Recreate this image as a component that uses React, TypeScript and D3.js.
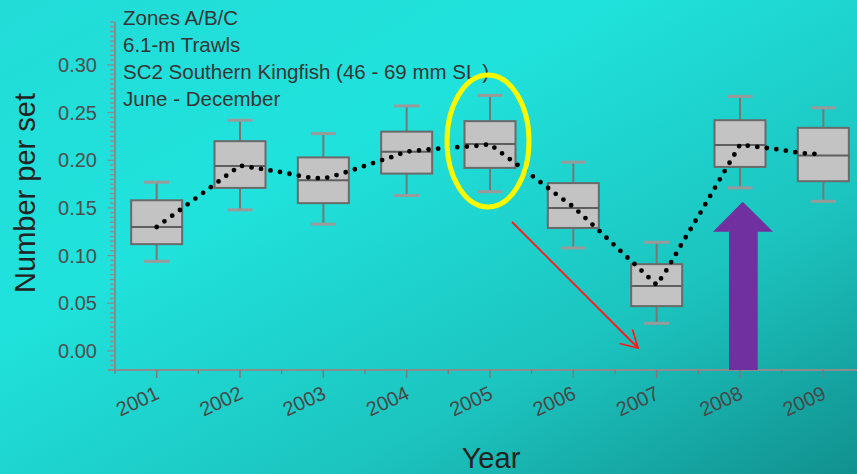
import React from "react";
import * as d3 from "d3";

const years = [2001, 2002, 2003, 2004, 2005, 2006, 2007, 2008, 2009];
const whiskerHigh = [0.177, 0.242, 0.228, 0.257, 0.268, 0.198, 0.114, 0.267, 0.255];
const q3 = [0.158, 0.220, 0.203, 0.230, 0.241, 0.176, 0.091, 0.242, 0.234];
const medians = [0.130, 0.194, 0.179, 0.209, 0.217, 0.150, 0.068, 0.216, 0.205];
const q1 = [0.112, 0.171, 0.155, 0.186, 0.192, 0.129, 0.047, 0.193, 0.178];
const whiskerLow = [0.094, 0.148, 0.133, 0.163, 0.167, 0.108, 0.029, 0.171, 0.157];

// smoothed trend (dotted line)
const smoothYears = [2001.0, 2001.2, 2001.5, 2001.8, 2002.0, 2002.1, 2002.5, 2002.8, 2003.0, 2003.2, 2003.4, 2003.6, 2003.8, 2004.0, 2004.3, 2004.6, 2004.8, 2005.0, 2005.1, 2005.3, 2005.5, 2005.8, 2006.0, 2006.3, 2006.6, 2006.8, 2007.0, 2007.05, 2007.12, 2007.3, 2007.54, 2007.78, 2007.96, 2008.0, 2008.14, 2008.44, 2008.74, 2009.0];
const smoothValues = [0.130, 0.1427, 0.1621, 0.1815, 0.1944, 0.193, 0.1875, 0.1822, 0.1807, 0.1854, 0.1912, 0.1972, 0.2028, 0.2091, 0.2116, 0.2137, 0.2147, 0.2168, 0.2101, 0.1972, 0.1841, 0.164, 0.1511, 0.1269, 0.102, 0.0858, 0.0692, 0.0758, 0.085, 0.1122, 0.1472, 0.1833, 0.2101, 0.2164, 0.2147, 0.2116, 0.2074, 0.2063];

const yTickValues = [0.0, 0.05, 0.1, 0.15, 0.2, 0.25, 0.3];
const headerLines = ["Zones A/B/C", "6.1-m Trawls", "SC2 Southern Kingfish (46 - 69 mm SL )", "June - December"];

const W = 857;
const H = 474;
const FONT = "'Liberation Sans', Arial, sans-serif";

export default function App() {
  const x = d3.scaleBand<number>().domain(years).range([115, 865]).padding(0);
  const bw = x.bandwidth();
  const cx = (yr: number) => (x(yr) as number) + bw / 2;
  const xc = d3.scaleLinear().domain([2001, 2009]).range([cx(2001), cx(2009)]);
  const y = d3.scaleLinear().domain([-0.02, 0.345]).range([370, 22]);

  const minorY = d3.range(-20, 346, 5).map((v) => v / 1000);
  const boundaries = years.map((yr) => x(yr) as number).concat([(x(2009) as number) + bw]);

  const line = d3
    .line<number>()
    .x((_, i) => xc(smoothYears[i]))
    .y((v) => y(v))
    .curve(d3.curveLinear);

  const boxW = 51;
  const capW = 25;

  return (
    <svg
      width={W}
      height={H}
      style={{ position: "absolute", left: 0, top: 0, display: "block" }}
      fontFamily={FONT}
    >
      <defs>
        <linearGradient id="bg" x1="0" y1="0" x2="1" y2="1">
          <stop offset="0" stopColor="#22dcd8" />
          <stop offset="0.35" stopColor="#20e2dc" />
          <stop offset="0.7" stopColor="#1cc4bf" />
          <stop offset="1" stopColor="#11918f" />
        </linearGradient>
      </defs>
      <rect x={0} y={0} width={W} height={H} fill="url(#bg)" />

      {/* header text */}
      {headerLines.map((t, i) => (
        <text key={t} x={123} y={25 + i * 27} fontSize={20.5} fill="#353535">
          {t}
        </text>
      ))}

      {/* y axis */}
      <line x1={115} x2={115} y1={y(0.345)} y2={370} stroke="#8c8c8c" strokeWidth={2} />
      {minorY.map((v) => {
        const major = Math.abs(Math.round(v * 1000) % 50) === 0;
        return (
          <line
            key={"my" + v}
            x1={major ? 107 : 110}
            x2={115}
            y1={y(v)}
            y2={y(v)}
            stroke="#8c8c8c"
            strokeWidth={1.3}
          />
        );
      })}
      {yTickValues.map((v) => (
        <text key={"yt" + v} x={97} y={y(v) + 7} fontSize={20} textAnchor="end" fill="#4e4e4e">
          {d3.format(".2f")(v)}
        </text>
      ))}

      {/* x axis */}
      <line x1={108} x2={W} y1={370} y2={370} stroke="#8c8c8c" strokeWidth={2.2} />
      {boundaries.map((b, i) => (
        <line key={"xb" + i} x1={b} x2={b} y1={370} y2={374} stroke="#7a7a7a" strokeWidth={1.3} />
      ))}
      {years.map((yr) => (
        <line key={"xt" + yr} x1={cx(yr)} x2={cx(yr)} y1={370} y2={378} stroke="#7a7a7a" strokeWidth={1.5} />
      ))}
      {years.map((yr) => (
        <text
          key={"xl" + yr}
          transform={`translate(${cx(yr) + 4},${398}) rotate(-25)`}
          fontSize={20}
          textAnchor="end"
          fill="#474747"
        >
          {yr}
        </text>
      ))}

      {/* axis titles */}
      <text x={491} y={468} fontSize={29} textAnchor="middle" fill="#222">
        Year
      </text>
      <text transform={`translate(35,193) rotate(-90)`} fontSize={29} textAnchor="middle" fill="#222">
        Number per set
      </text>

      {/* boxes */}
      {years.map((yr, i) => {
        const c = cx(yr);
        return (
          <g key={"b" + yr}>
            <line x1={c} x2={c} y1={y(whiskerHigh[i])} y2={y(q3[i])} stroke="#777" strokeWidth={2} />
            <line x1={c} x2={c} y1={y(q1[i])} y2={y(whiskerLow[i])} stroke="#777" strokeWidth={2} />
            <line x1={c - capW / 2} x2={c + capW / 2} y1={y(whiskerHigh[i])} y2={y(whiskerHigh[i])} stroke="#9a9a9a" strokeWidth={3} />
            <line x1={c - capW / 2} x2={c + capW / 2} y1={y(whiskerLow[i])} y2={y(whiskerLow[i])} stroke="#9a9a9a" strokeWidth={3} />
            <rect
              x={c - boxW / 2}
              y={y(q3[i])}
              width={boxW}
              height={y(q1[i]) - y(q3[i])}
              fill="#c3c3c3"
              stroke="#6a6a6a"
              strokeWidth={2}
            />
            <line x1={c - boxW / 2} x2={c + boxW / 2} y1={y(medians[i])} y2={y(medians[i])} stroke="#5f5f5f" strokeWidth={2} />
          </g>
        );
      })}

      {/* dotted smooth */}
      <path
        d={line(smoothValues) || ""}
        fill="none"
        stroke="#000"
        strokeWidth={4.8}
        strokeLinecap="round"
        strokeDasharray="0 9.6"
      />

      {/* yellow ellipse */}
      <ellipse cx={488} cy={141} rx={41} ry={66} fill="none" stroke="#f8f800" strokeWidth={5} />

      {/* red arrow */}
      <g stroke="#ff1a1a" strokeWidth={1.8} fill="none">
        <line x1={512} y1={222} x2={638} y2={348} />
        <polyline points="632.5,329.5 638,348 619.5,343.5" />
      </g>

      {/* purple arrow */}
      <polygon
        points={[
          [729, 370],
          [729, 231.7],
          [713, 231.7],
          [742.7, 201.7],
          [773, 231.7],
          [757.7, 231.7],
          [757.7, 370],
        ]
          .map((p) => p.join(","))
          .join(" ")}
        fill="#7030a0"
      />
    </svg>
  );
}
